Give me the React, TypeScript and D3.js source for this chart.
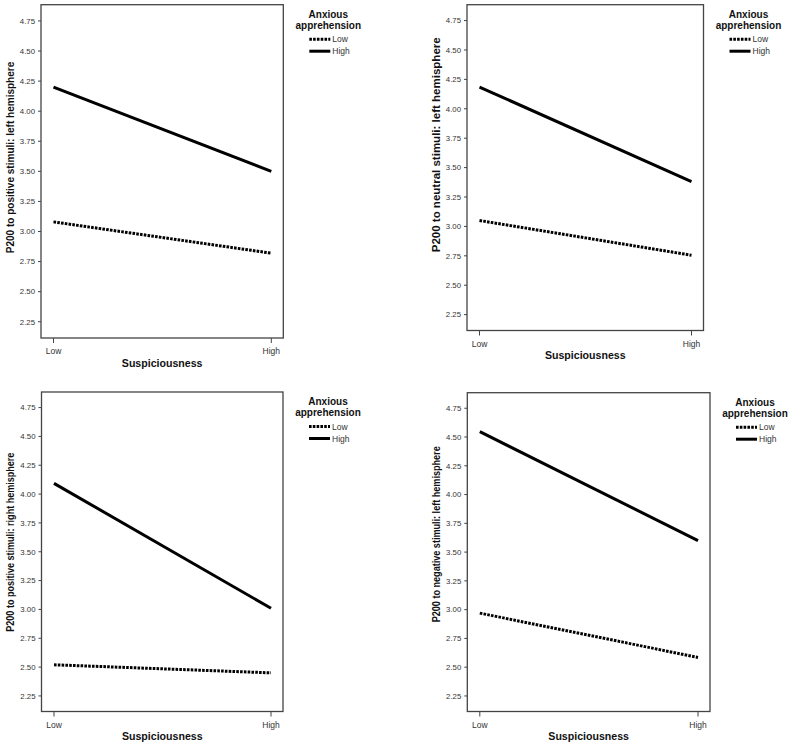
import React from "react";
import * as d3 from "d3";

const categories = ["Low", "High"];
const yTickValues = [2.25, 2.5, 2.75, 3.0, 3.25, 3.5, 3.75, 4.0, 4.25, 4.5, 4.75];
const legendTitle = ["Anxious", "apprehension"];
const legendLabels = ["Low", "High"];
const xTitle = "Suspiciousness";

const yTitles = [
  "P200 to positive stimuli: left hemisphere",
  "P200 to neutral stimuli: left hemisphere",
  "P200 to positive stimuli: right hemisphere",
  "P200 to negative stimuli: left hemisphere",
];

// values: [Low suspiciousness, High suspiciousness]
const lowAnxPosLeft = [3.08, 2.82];
const highAnxPosLeft = [4.2, 3.5];
const lowAnxNeuLeft = [3.05, 2.755];
const highAnxNeuLeft = [4.185, 3.38];
const lowAnxPosRight = [2.52, 2.45];
const highAnxPosRight = [4.093, 3.01];
const lowAnxNegLeft = [2.97, 2.585];
const highAnxNegLeft = [4.546, 3.6];

const lowSeries = [lowAnxPosLeft, lowAnxNeuLeft, lowAnxPosRight, lowAnxNegLeft];
const highSeries = [highAnxPosLeft, highAnxNeuLeft, highAnxPosRight, highAnxNegLeft];

// panel frames (layout)
const frames = [
  { l: 41, t: 4.7, r: 283.3, b: 338, titleStart: 253.3, titleLen: 191.6 },
  { l: 467, t: 4.7, r: 703.5, b: 330.5, titleStart: 252.3, titleLen: 215 },
  { l: 41.5, t: 392, r: 283, b: 711.5, titleStart: 631.7, titleLen: 179 },
  { l: 467.3, t: 392.7, r: 710, b: 711.5, titleStart: 622.3, titleLen: 176 },
];

const FONT = "'Liberation Sans', Arial, sans-serif";

function Panel({ idx }: { idx: number }) {
  const f = frames[idx];
  const x = d3
    .scalePoint<string>()
    .domain(categories)
    .range([f.l + 12.5, f.r - 12]);
  const y = d3.scaleLinear().domain([2.115, 4.885]).range([f.b, f.t]);
  const line = d3
    .line<number>()
    .x((_, i) => x(categories[i]) as number)
    .y((d) => y(d));
  const legCx = f.r + 45;
  const lineX0 = f.r + 26;
  const lineX1 = f.r + 47;
  const titleX = f.l - 27.5;
  return (
    <g>
      <rect
        x={f.l}
        y={f.t}
        width={f.r - f.l}
        height={f.b - f.t}
        fill="none"
        stroke="#444"
        strokeWidth={1.3}
      />
      {yTickValues.map((v) => (
        <g key={v}>
          <line x1={f.l - 3} x2={f.l} y1={y(v)} y2={y(v)} stroke="#444" strokeWidth={1} />
          <text
            x={f.l - 6}
            y={y(v) + 2.8}
            textAnchor="end"
            fontSize={7.8}
            fontFamily={FONT}
            fill="#333"
          >
            {v.toFixed(2)}
          </text>
        </g>
      ))}
      {categories.map((c) => (
        <g key={c}>
          <line
            x1={x(c)}
            x2={x(c)}
            y1={f.b}
            y2={f.b + 5}
            stroke="#444"
            strokeWidth={1}
          />
          <text
            x={x(c)}
            y={f.b + 16}
            textAnchor="middle"
            fontSize={8.5}
            fontFamily={FONT}
            fill="#333"
          >
            {c}
          </text>
        </g>
      ))}
      <text
        x={(f.l + f.r) / 2}
        y={f.b + 28.5}
        textAnchor="middle"
        fontSize={10.6}
        fontWeight="bold"
        fontFamily={FONT}
        fill="#111"
      >
        {xTitle}
      </text>
      <text
        transform={`translate(${titleX},${f.titleStart}) rotate(-90)`}
        textAnchor="start"
        fontSize={11.2}
        fontWeight="bold"
        fontFamily={FONT}
        fill="#111"
        textLength={f.titleLen}
        lengthAdjust="spacingAndGlyphs"
      >
        {yTitles[idx]}
      </text>
      <path
        d={line(lowSeries[idx]) as string}
        fill="none"
        stroke="#000"
        strokeWidth={3}
        strokeDasharray="2.6,1.2"
      />
      <path
        d={line(highSeries[idx]) as string}
        fill="none"
        stroke="#000"
        strokeWidth={3}
      />
      <text
        x={legCx}
        y={f.t + 13}
        textAnchor="middle"
        fontSize={10}
        fontWeight="bold"
        fontFamily={FONT}
        fill="#111"
      >
        {legendTitle[0]}
      </text>
      <text
        x={legCx}
        y={f.t + 24}
        textAnchor="middle"
        fontSize={10}
        fontWeight="bold"
        fontFamily={FONT}
        fill="#111"
      >
        {legendTitle[1]}
      </text>
      {legendLabels.map((lab, i) => {
        const ly = f.t + 34.5 + i * 12;
        return (
          <g key={lab}>
            <line
              x1={lineX0}
              x2={lineX1}
              y1={ly}
              y2={ly}
              stroke="#000"
              strokeWidth={3}
              strokeDasharray={i === 0 ? "2.6,1.2" : undefined}
            />
            <text
              x={lineX1 + 2}
              y={ly + 3}
              fontSize={8.5}
              fontFamily={FONT}
              fill="#333"
            >
              {lab}
            </text>
          </g>
        );
      })}
    </g>
  );
}

export default function App() {
  return (
    <svg
      width={792}
      height={747}
      style={{ position: "absolute", left: 0, top: 0, background: "#fff" }}
    >
      <rect x={0} y={0} width={792} height={747} fill="#fff" />
      {frames.map((_, i) => (
        <Panel key={i} idx={i} />
      ))}
    </svg>
  );
}
